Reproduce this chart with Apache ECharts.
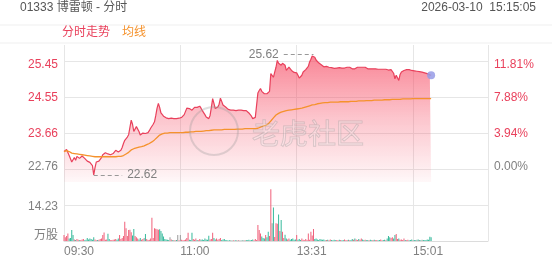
<!DOCTYPE html>
<html><head><meta charset="utf-8">
<script src="https://cdn.jsdelivr.net/npm/echarts@6/dist/echarts.min.js"></script>
<style>html,body{margin:0;padding:0;background:#fff}#c{width:552px;height:265px}</style>
</head><body><div id="c"></div>
<script>
const chartTitle = '01333 博雷顿 - 分时';
const timestamp = '2026-03-10  15:15:05';
const legendNames = ['分时走势', '均线'];
const prevClose = 22.76;
const pctTicks = [0, 3.94, 7.88, 11.81];
const volTicks = [0, 14.23];
const volUnit = '万股';
const xTickLabels = ['09:30', '11:00', '13:31', '15:01'];

const price = [
23.20,23.22,23.25,23.26,23.10,23.02,22.94,22.92,23.05,22.98,
23.08,23.11,23.03,23.05,23.09,23.11,23.03,23.00,22.96,22.94,
22.93,22.90,22.85,22.62,22.80,22.94,22.92,22.96,22.98,23.05,
23.12,23.15,23.17,23.19,23.14,23.11,23.12,23.14,23.15,23.18,
23.23,23.21,23.19,23.20,23.23,23.30,23.40,23.48,23.50,23.56,
23.62,23.80,23.98,23.88,23.70,23.74,23.82,23.85,23.70,23.61,
23.63,23.66,23.66,23.65,23.66,23.67,23.72,23.78,23.81,23.88,
23.94,24.10,24.28,24.40,24.30,24.16,24.12,24.08,24.06,24.04,
24.03,24.02,24.02,24.03,24.02,24.02,24.03,24.02,24.02,24.03,
24.03,24.05,24.06,24.12,24.20,24.28,24.31,24.27,24.24,24.23,
24.26,24.30,24.31,24.30,24.32,24.33,24.28,24.22,24.18,24.12,
24.06,24.04,24.02,24.10,24.30,24.52,24.40,24.27,24.28,24.31,
24.38,24.53,24.45,24.36,24.34,24.31,24.28,24.25,24.23,24.23,
24.22,24.23,24.23,24.22,24.23,24.23,24.24,24.23,24.23,24.22,
24.23,24.22,24.20,24.16,24.14,24.08,24.02,24.03,24.05,24.06,
24.66,24.72,24.77,24.70,24.66,24.64,24.65,24.64,24.62,24.70,
25.14,25.14,25.05,25.18,25.30,25.47,25.40,25.43,25.35,25.40,
25.43,25.35,25.22,25.26,25.30,25.28,25.22,25.18,25.17,25.15,
25.16,25.10,25.03,25.01,25.10,25.18,25.20,25.24,25.26,25.32,
25.43,25.50,25.58,25.62,25.55,25.48,25.45,25.41,25.39,25.36,
25.34,25.31,25.30,25.32,25.29,25.30,25.31,25.29,25.28,25.27,
25.26,25.28,25.30,25.29,25.30,25.28,25.27,25.28,25.29,25.30,
25.29,25.30,25.28,25.26,25.27,25.26,25.28,25.30,25.29,25.30,
25.31,25.30,25.29,25.30,25.28,25.26,25.27,25.26,25.25,25.26,
25.25,25.26,25.27,25.25,25.24,25.25,25.26,25.25,25.24,25.25,
25.24,25.23,25.22,25.24,25.25,25.15,25.01,25.10,25.14,24.97,
25.12,25.18,25.20,25.22,25.21,25.24,25.26,25.24,25.23,25.22,
25.22,25.21,25.20,25.20,25.19,25.19,25.18,25.18,25.17,25.16,
25.15,25.14,25.12,25.11,25.10
];

const avg = [
23.20,23.21,23.22,23.22,23.20,23.17,23.16,23.16,23.15,23.15,
23.14,23.14,23.13,23.13,23.12,23.12,23.11,23.11,23.10,23.10,
23.09,23.08,23.08,23.07,23.07,23.07,23.07,23.07,23.07,23.07,
23.07,23.07,23.07,23.07,23.07,23.07,23.07,23.07,23.07,23.07,
23.07,23.08,23.08,23.08,23.08,23.09,23.10,23.12,23.14,23.16,
23.18,23.21,23.24,23.26,23.27,23.28,23.29,23.30,23.31,23.31,
23.32,23.33,23.34,23.35,23.37,23.39,23.40,23.42,23.44,23.46,
23.49,23.51,23.55,23.59,23.61,23.63,23.64,23.65,23.66,23.66,
23.66,23.66,23.67,23.67,23.67,23.67,23.67,23.67,23.67,23.67,
23.67,23.67,23.67,23.68,23.68,23.68,23.68,23.69,23.69,23.69,
23.69,23.69,23.70,23.70,23.70,23.70,23.70,23.71,23.71,23.71,
23.72,23.72,23.72,23.73,23.73,23.73,23.74,23.74,23.74,23.74,
23.74,23.74,23.74,23.75,23.75,23.75,23.75,23.75,23.75,23.75,
23.75,23.75,23.75,23.76,23.76,23.76,23.76,23.76,23.76,23.76,
23.77,23.77,23.77,23.77,23.77,23.77,23.77,23.77,23.77,23.77,
23.78,23.80,23.81,23.82,23.83,23.84,23.85,23.87,23.89,23.92,
23.96,24.00,24.04,24.08,24.11,24.13,24.15,24.17,24.18,24.19,
24.20,24.21,24.22,24.22,24.23,24.23,24.24,24.24,24.25,24.25,
24.26,24.26,24.27,24.27,24.28,24.29,24.30,24.31,24.32,24.33,
24.34,24.35,24.36,24.37,24.37,24.38,24.39,24.39,24.40,24.40,
24.41,24.41,24.42,24.42,24.42,24.42,24.43,24.43,24.43,24.43,
24.43,24.43,24.43,24.44,24.44,24.44,24.44,24.44,24.44,24.44,
24.44,24.45,24.45,24.45,24.45,24.45,24.45,24.46,24.46,24.46,
24.46,24.46,24.46,24.47,24.47,24.47,24.47,24.47,24.47,24.48,
24.48,24.48,24.48,24.48,24.48,24.48,24.48,24.49,24.49,24.49,
24.49,24.49,24.49,24.50,24.50,24.50,24.50,24.50,24.50,24.50,
24.50,24.51,24.51,24.51,24.51,24.51,24.51,24.51,24.51,24.51,
24.52,24.52,24.52,24.52,24.52,24.52,24.52,24.52,24.52,24.52,
24.52,24.52,24.52,24.52,24.52
];

const volume = [
2.4,1.5,2.0,3.0,1.0,1.2,4.3,2.4,0.6,0.4,
0.8,0.5,0.3,0.4,0.6,0.8,0.3,0.5,1.2,0.6,
1.0,0.8,0.5,1.5,0.6,0.3,0.4,0.5,0.8,1.0,
2.4,3.4,0.5,0.6,2.9,0.8,0.3,0.4,0.5,0.6,
0.8,0.5,1.0,2.4,0.8,1.2,2.0,7.6,5.0,2.0,
4.3,4.4,3.5,2.2,4.7,2.0,1.5,1.0,0.6,1.2,
0.5,0.8,1.2,2.8,0.8,0.4,0.5,1.0,9.2,1.2,
5.0,4.8,4.6,4.4,4.6,4.0,3.0,1.8,0.8,0.6,
0.5,0.4,1.5,0.6,0.3,0.4,0.3,0.4,2.4,0.3,
2.4,0.5,0.3,0.4,0.6,1.2,3.3,0.5,0.4,3.3,
0.8,0.5,1.0,0.4,0.3,0.8,0.5,0.6,0.4,1.0,
0.6,0.5,2.1,0.6,0.8,3.3,1.2,0.6,1.0,0.5,
0.8,1.2,0.4,0.6,0.8,0.3,0.4,0.2,0.3,0.3,
0.2,0.3,0.2,0.4,0.2,0.3,0.2,0.2,0.3,0.2,
0.3,0.4,0.3,0.5,0.3,0.4,0.6,0.3,0.8,0.4,
6.3,4.3,3.0,1.8,1.2,1.0,2.4,1.5,3.7,2.0,
20.5,7.0,13.2,1.6,7.0,6.8,10.5,4.0,8.3,3.7,
1.2,2.5,1.0,0.6,1.0,0.5,0.8,1.0,0.5,0.6,
2.4,0.5,0.8,0.4,1.0,0.5,0.3,0.8,0.4,3.0,
0.5,3.7,2.2,4.7,0.8,1.0,0.6,0.4,0.8,0.6,
0.5,0.6,0.3,0.4,0.5,0.3,0.6,0.4,0.3,0.5,
0.3,0.4,0.3,0.5,0.4,0.3,0.4,0.6,0.3,0.4,
0.5,0.3,0.4,0.8,0.5,1.0,0.6,0.4,0.8,0.5,
1.0,0.6,0.4,0.5,0.3,0.4,0.3,0.5,0.3,0.4,
0.5,0.3,0.4,0.3,0.4,0.6,0.3,0.4,0.5,0.3,
1.0,2.0,1.5,1.2,1.5,1.0,2.4,2.8,0.8,1.0,
0.5,0.6,0.4,1.0,0.4,0.3,0.5,0.3,0.4,0.6,
0.3,0.4,0.3,0.5,0.6,0.4,0.3,0.5,0.4,0.3,
0.4,0.6,0.5,1.7,1.5
];

// trading minutes: morning 09:30-11:59, afternoon 13:01-15:59
function buildTimes() {
  const t = [];
  const add = (h, m, n) => {
    for (let k = 0; k < n; k++) {
      const mm = h * 60 + m + k;
      t.push(String(Math.floor(mm / 60)).padStart(2, '0') + ':' + String(mm % 60).padStart(2, '0'));
    }
  };
  add(9, 30, 150);
  add(13, 1, 179);
  return t;
}
const times = buildTimes();
const lastIdx = times.length - 1;

const RED = '#e9415c', ORANGE = '#f5922c', GREEN = '#35b99b', GRAY_TXT = '#808080', GRID = '#e6e6e6';
const FONT = '"Liberation Sans", Arial, "Noto Sans CJK SC", sans-serif';

const tickPrices = pctTicks.map(p => prevClose * (1 + p / 100));
const yMin = 22.441, yMax = 25.854;
const volMax = 23.32;

const maxV = Math.max(...price), maxI = price.indexOf(maxV);
const minV = Math.min(...price), minI = price.indexOf(minV);
const endI = price.length - 1;

const volData = volume.map((v, i) => {
  const prev = i === 0 ? prevClose : price[i - 1];
  const d = price[i] - prev;
  const c = d > 0.0001 ? '#f0607a' : (d < -0.0001 ? GREEN : '#9a9a9a');
  return { value: v, itemStyle: { color: c } };
});

const isTickIdx = (idx) => xTickLabels.indexOf(times[idx]) >= 0;
const isGridIdx = (idx) => isTickIdx(idx) || idx === lastIdx;

const chart = echarts.init(document.getElementById('c'), null, { renderer: 'canvas' });
chart.setOption({
  animation: false,
  textStyle: { fontFamily: FONT },
  title: {
    text: chartTitle, left: 20, top: 2, padding: 0,
    textStyle: { fontSize: 12, fontWeight: 'normal', color: '#555', fontFamily: FONT }
  },
  legend: {
    left: 62, top: 26, padding: 0, itemGap: 12, icon: 'none', itemWidth: 0, itemHeight: 14,
    selectedMode: false,
    textStyle: { fontSize: 12, fontFamily: FONT, padding: [0, 0, 0, -5] },
    data: [
      { name: legendNames[0], textStyle: { color: RED } },
      { name: legendNames[1], textStyle: { color: ORANGE } }
    ]
  },
  graphic: [
    { type: 'rect', z: -1, shape: { x: -1, y: 25, width: 554, height: 18 }, style: { fill: '#fff', stroke: '#efefef', lineWidth: 1 } },
    { type: 'text', right: 16, top: 2, style: { text: timestamp, fontSize: 12, fill: '#555', font: '12px ' + FONT } },
    { type: 'circle', z: 100, shape: { cx: 214, cy: 131, r: 24 }, style: { fill: 'none', stroke: 'rgba(150,150,150,0.3)', lineWidth: 2 } },
    { type: 'text', z: 100, x: 252, y: 133, style: { text: '老虎社区', font: '28px "Noto Sans CJK SC"', fill: 'rgba(255,255,255,0.2)', stroke: 'rgba(150,150,150,0.4)', lineWidth: 1, verticalAlign: 'middle' } }
  ],
  grid: [
    { left: 64, top: 45, width: 424, height: 137 },
    { left: 64, top: 182, width: 424, height: 59 }
  ],
  xAxis: [
    {
      gridIndex: 0, type: 'category', data: times, boundaryGap: false,
      axisLine: { show: false }, axisTick: { show: false }, axisLabel: { show: false },
      splitLine: { show: true, interval: (i) => isGridIdx(i), lineStyle: { color: GRID } }
    },
    {
      gridIndex: 1, type: 'category', data: times, boundaryGap: false,
      axisLine: { show: true, lineStyle: { color: '#dcdcdc' } }, axisTick: { show: false },
      axisLabel: { show: true, interval: (i) => isTickIdx(i), align: 'left', margin: 5, color: GRAY_TXT, fontSize: 12, fontFamily: FONT },
      splitLine: { show: true, interval: (i) => isGridIdx(i), lineStyle: { color: GRID } }
    }
  ],
  yAxis: [
    {
      gridIndex: 0, position: 'left', min: yMin, max: yMax, scale: true,
      axisLine: { show: false }, axisTick: { show: false, customValues: tickPrices },
      splitLine: { show: true, lineStyle: { color: GRID } },
      axisLabel: {
        customValues: tickPrices, margin: 6, fontSize: 12, fontFamily: FONT,
        formatter: (v) => {
          const k = tickPrices.findIndex(t => Math.abs(t - v) < 1e-6);
          const s = v.toFixed(2);
          if (k === 0) return '{b|' + s + '}';
          if (k === tickPrices.length - 1) return '{t|' + s + '}';
          return '{m|' + s + '}';
        },
        rich: {
          t: { color: RED, fontSize: 12, fontFamily: FONT, padding: [6, 0, 0, 0] },
          m: { color: RED, fontSize: 12, fontFamily: FONT },
          b: { color: GRAY_TXT, fontSize: 12, fontFamily: FONT, padding: [0, 0, 6, 0] }
        }
      }
    },
    {
      gridIndex: 0, position: 'right', min: yMin, max: yMax, scale: true,
      axisLine: { show: false }, axisTick: { show: false, customValues: tickPrices },
      splitLine: { show: false },
      axisLabel: {
        customValues: tickPrices, margin: 6, fontSize: 12, fontFamily: FONT,
        formatter: (v) => {
          const k = tickPrices.findIndex(t => Math.abs(t - v) < 1e-6);
          const s = pctTicks[k].toFixed(2) + '%';
          if (k === 0) return '{b|' + s + '}';
          if (k === tickPrices.length - 1) return '{t|' + s + '}';
          return '{m|' + s + '}';
        },
        rich: {
          t: { color: RED, fontSize: 12, fontFamily: FONT, padding: [6, 0, 0, 0] },
          m: { color: RED, fontSize: 12, fontFamily: FONT },
          b: { color: GRAY_TXT, fontSize: 12, fontFamily: FONT, padding: [0, 0, 6, 0] }
        }
      }
    },
    {
      gridIndex: 1, position: 'left', min: 0, max: volMax,
      axisLine: { show: false }, axisTick: { show: false, customValues: volTicks },
      splitLine: { show: true, lineStyle: { color: GRID } },
      axisLabel: {
        customValues: volTicks, margin: 6, fontSize: 12, fontFamily: FONT,
        formatter: (v) => v === 0 ? '{b|' + volUnit + '}' : '{t|' + v.toFixed(2) + '}',
        rich: {
          t: { color: GRAY_TXT, fontSize: 12, fontFamily: FONT, padding: [4, 0, 0, 0] },
          b: { color: GRAY_TXT, fontSize: 12, fontFamily: FONT, padding: [0, 0, 10, 0] }
        }
      }
    }
  ],
  series: [
    {
      name: legendNames[0], type: 'line', xAxisIndex: 0, yAxisIndex: 0, data: price,
      showSymbol: false, symbol: 'none', smooth: false,
      lineStyle: { color: RED, width: 1.2 }, itemStyle: { color: RED },
      areaStyle: {
        color: new echarts.graphic.LinearGradient(0, 0, 0, 1, [
          { offset: 0, color: 'rgba(246,72,96,0.95)' },
          { offset: 0.5, color: 'rgba(246,72,96,0.45)' },
          { offset: 1, color: 'rgba(246,72,96,0.06)' }
        ])
      },
      markLine: {
        silent: true, symbol: ['none', 'none'], animation: false,
        lineStyle: { color: '#999', type: [4, 3], width: 1 },
        label: { color: GRAY_TXT, fontSize: 12, fontFamily: FONT, distance: 5 },
        data: [
          [{ coord: [times[maxI - 23], maxV], label: { position: 'start', formatter: maxV.toFixed(2) } }, { coord: [times[maxI], maxV] }],
          [{ coord: [times[minI], minV], label: { position: 'end', formatter: minV.toFixed(2) } }, { coord: [times[minI + 22], minV] }]
        ]
      },
      markPoint: {
        silent: true, animation: false,
        data: [{ coord: [times[endI], price[endI]], symbol: 'circle', symbolSize: 8, itemStyle: { color: 'rgba(150,155,230,0.85)' }, label: { show: false } }]
      }
    },
    {
      name: legendNames[1], type: 'line', xAxisIndex: 0, yAxisIndex: 0, data: avg,
      showSymbol: false, symbol: 'none', lineStyle: { color: ORANGE, width: 1.3 }, itemStyle: { color: ORANGE }
    },
    {
      name: 'volume', type: 'bar', xAxisIndex: 1, yAxisIndex: 2, data: volData, barWidth: 1
    }
  ]
});
</script>
</body></html>
